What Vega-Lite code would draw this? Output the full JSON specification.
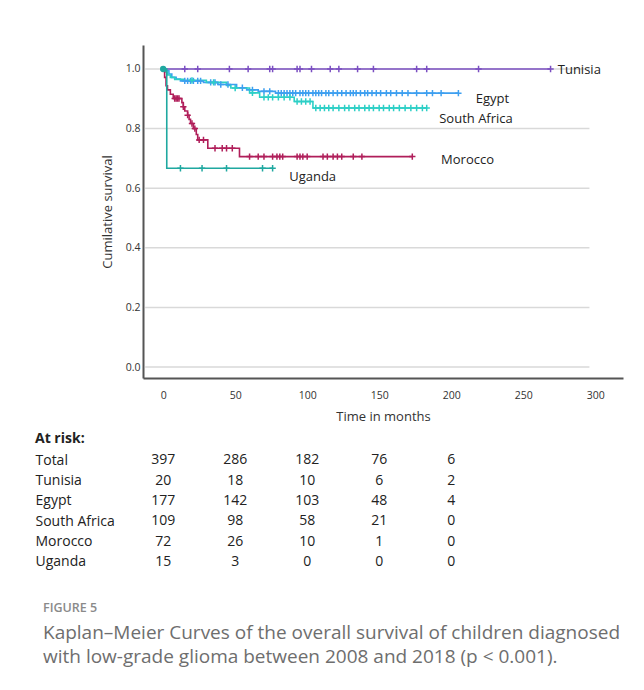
{
  "$schema": "https://vega.github.io/schema/vega-lite/v6.json",
  "padding": {"left": 35, "top": 45, "right": 5, "bottom": 5},
  "background": "white",
  "config": {"font": "Open Sans", "view": {"stroke": null}},
  "datasets": {
    "curves": [
      {"g": "Tunisia", "t": 0, "s": 1}, {"g": "Tunisia", "t": 269, "s": 1},
      {"g": "Egypt", "t": 0, "s": 1}, {"g": "Egypt", "t": 2, "s": 0.994}, {"g": "Egypt", "t": 4, "s": 0.983}, {"g": "Egypt", "t": 6, "s": 0.972}, {"g": "Egypt", "t": 9, "s": 0.966}, {"g": "Egypt", "t": 12, "s": 0.96}, {"g": "Egypt", "t": 28, "s": 0.955}, {"g": "Egypt", "t": 38, "s": 0.948}, {"g": "Egypt", "t": 51, "s": 0.937}, {"g": "Egypt", "t": 58, "s": 0.93}, {"g": "Egypt", "t": 66, "s": 0.925}, {"g": "Egypt", "t": 78, "s": 0.919}, {"g": "Egypt", "t": 205, "s": 0.919},
      {"g": "South Africa", "t": 0, "s": 1}, {"g": "South Africa", "t": 1.5, "s": 0.99}, {"g": "South Africa", "t": 3, "s": 0.98}, {"g": "South Africa", "t": 5, "s": 0.972}, {"g": "South Africa", "t": 8, "s": 0.965}, {"g": "South Africa", "t": 14, "s": 0.962}, {"g": "South Africa", "t": 30, "s": 0.955}, {"g": "South Africa", "t": 44, "s": 0.945}, {"g": "South Africa", "t": 47, "s": 0.936}, {"g": "South Africa", "t": 60, "s": 0.92}, {"g": "South Africa", "t": 67, "s": 0.905}, {"g": "South Africa", "t": 91, "s": 0.891}, {"g": "South Africa", "t": 104, "s": 0.869}, {"g": "South Africa", "t": 183, "s": 0.869},
      {"g": "Morocco", "t": 0, "s": 1}, {"g": "Morocco", "t": 1, "s": 0.972}, {"g": "Morocco", "t": 2, "s": 0.944}, {"g": "Morocco", "t": 3, "s": 0.93}, {"g": "Morocco", "t": 5, "s": 0.915}, {"g": "Morocco", "t": 7, "s": 0.901}, {"g": "Morocco", "t": 13, "s": 0.887}, {"g": "Morocco", "t": 14, "s": 0.873}, {"g": "Morocco", "t": 15, "s": 0.859}, {"g": "Morocco", "t": 17, "s": 0.845}, {"g": "Morocco", "t": 18, "s": 0.831}, {"g": "Morocco", "t": 19, "s": 0.817}, {"g": "Morocco", "t": 21, "s": 0.8}, {"g": "Morocco", "t": 23, "s": 0.78}, {"g": "Morocco", "t": 24, "s": 0.762}, {"g": "Morocco", "t": 31, "s": 0.734}, {"g": "Morocco", "t": 53, "s": 0.706}, {"g": "Morocco", "t": 173, "s": 0.706},
      {"g": "Uganda", "t": 0, "s": 1}, {"g": "Uganda", "t": 2.5, "s": 0.667}, {"g": "Uganda", "t": 76, "s": 0.667}
    ],
    "censored": [
      {"g": "Tunisia", "t": 15, "s": 1}, {"g": "Tunisia", "t": 24, "s": 1}, {"g": "Tunisia", "t": 46, "s": 1}, {"g": "Tunisia", "t": 59, "s": 1}, {"g": "Tunisia", "t": 74, "s": 1}, {"g": "Tunisia", "t": 76, "s": 1}, {"g": "Tunisia", "t": 93, "s": 1}, {"g": "Tunisia", "t": 95, "s": 1}, {"g": "Tunisia", "t": 103, "s": 1}, {"g": "Tunisia", "t": 116, "s": 1}, {"g": "Tunisia", "t": 122, "s": 1}, {"g": "Tunisia", "t": 135, "s": 1}, {"g": "Tunisia", "t": 146, "s": 1}, {"g": "Tunisia", "t": 176, "s": 1}, {"g": "Tunisia", "t": 183, "s": 1}, {"g": "Tunisia", "t": 219, "s": 1}, {"g": "Tunisia", "t": 269, "s": 1},
      {"g": "Egypt", "t": 15, "s": 0.96}, {"g": "Egypt", "t": 17, "s": 0.96}, {"g": "Egypt", "t": 19, "s": 0.96}, {"g": "Egypt", "t": 21, "s": 0.96}, {"g": "Egypt", "t": 24, "s": 0.96}, {"g": "Egypt", "t": 26, "s": 0.96}, {"g": "Egypt", "t": 33, "s": 0.955}, {"g": "Egypt", "t": 36, "s": 0.955}, {"g": "Egypt", "t": 40, "s": 0.948}, {"g": "Egypt", "t": 45, "s": 0.948}, {"g": "Egypt", "t": 55, "s": 0.937}, {"g": "Egypt", "t": 62, "s": 0.93}, {"g": "Egypt", "t": 70, "s": 0.925}, {"g": "Egypt", "t": 74, "s": 0.925},
      {"g": "Egypt", "t": 80, "s": 0.919}, {"g": "Egypt", "t": 82, "s": 0.919}, {"g": "Egypt", "t": 84, "s": 0.919}, {"g": "Egypt", "t": 86, "s": 0.919}, {"g": "Egypt", "t": 88, "s": 0.919}, {"g": "Egypt", "t": 90, "s": 0.919}, {"g": "Egypt", "t": 92, "s": 0.919}, {"g": "Egypt", "t": 95, "s": 0.919}, {"g": "Egypt", "t": 97, "s": 0.919}, {"g": "Egypt", "t": 99, "s": 0.919}, {"g": "Egypt", "t": 101, "s": 0.919}, {"g": "Egypt", "t": 104, "s": 0.919}, {"g": "Egypt", "t": 106, "s": 0.919}, {"g": "Egypt", "t": 108, "s": 0.919}, {"g": "Egypt", "t": 110, "s": 0.919}, {"g": "Egypt", "t": 113, "s": 0.919}, {"g": "Egypt", "t": 115, "s": 0.919}, {"g": "Egypt", "t": 118, "s": 0.919}, {"g": "Egypt", "t": 121, "s": 0.919}, {"g": "Egypt", "t": 124, "s": 0.919}, {"g": "Egypt", "t": 127, "s": 0.919}, {"g": "Egypt", "t": 130, "s": 0.919}, {"g": "Egypt", "t": 132, "s": 0.919}, {"g": "Egypt", "t": 134, "s": 0.919}, {"g": "Egypt", "t": 137, "s": 0.919}, {"g": "Egypt", "t": 140, "s": 0.919}, {"g": "Egypt", "t": 142, "s": 0.919}, {"g": "Egypt", "t": 145, "s": 0.919}, {"g": "Egypt", "t": 148, "s": 0.919}, {"g": "Egypt", "t": 151, "s": 0.919}, {"g": "Egypt", "t": 155, "s": 0.919}, {"g": "Egypt", "t": 158, "s": 0.919}, {"g": "Egypt", "t": 162, "s": 0.919}, {"g": "Egypt", "t": 166, "s": 0.919}, {"g": "Egypt", "t": 170, "s": 0.919}, {"g": "Egypt", "t": 176, "s": 0.919}, {"g": "Egypt", "t": 183, "s": 0.919}, {"g": "Egypt", "t": 187, "s": 0.919}, {"g": "Egypt", "t": 193, "s": 0.919}, {"g": "Egypt", "t": 205, "s": 0.919},
      {"g": "South Africa", "t": 20, "s": 0.962}, {"g": "South Africa", "t": 35, "s": 0.955}, {"g": "South Africa", "t": 50, "s": 0.936}, {"g": "South Africa", "t": 62, "s": 0.92}, {"g": "South Africa", "t": 70, "s": 0.905}, {"g": "South Africa", "t": 73, "s": 0.905}, {"g": "South Africa", "t": 76, "s": 0.905}, {"g": "South Africa", "t": 80, "s": 0.905}, {"g": "South Africa", "t": 84, "s": 0.905}, {"g": "South Africa", "t": 88, "s": 0.905}, {"g": "South Africa", "t": 93, "s": 0.891}, {"g": "South Africa", "t": 96, "s": 0.891}, {"g": "South Africa", "t": 99, "s": 0.891}, {"g": "South Africa", "t": 102, "s": 0.891},
      {"g": "South Africa", "t": 106, "s": 0.869}, {"g": "South Africa", "t": 109, "s": 0.869}, {"g": "South Africa", "t": 112, "s": 0.869}, {"g": "South Africa", "t": 115, "s": 0.869}, {"g": "South Africa", "t": 118, "s": 0.869}, {"g": "South Africa", "t": 122, "s": 0.869}, {"g": "South Africa", "t": 126, "s": 0.869}, {"g": "South Africa", "t": 129, "s": 0.869}, {"g": "South Africa", "t": 133, "s": 0.869}, {"g": "South Africa", "t": 136, "s": 0.869}, {"g": "South Africa", "t": 140, "s": 0.869}, {"g": "South Africa", "t": 143, "s": 0.869}, {"g": "South Africa", "t": 146, "s": 0.869}, {"g": "South Africa", "t": 150, "s": 0.869}, {"g": "South Africa", "t": 153, "s": 0.869}, {"g": "South Africa", "t": 157, "s": 0.869}, {"g": "South Africa", "t": 160, "s": 0.869}, {"g": "South Africa", "t": 164, "s": 0.869}, {"g": "South Africa", "t": 168, "s": 0.869}, {"g": "South Africa", "t": 172, "s": 0.869}, {"g": "South Africa", "t": 176, "s": 0.869}, {"g": "South Africa", "t": 180, "s": 0.869}, {"g": "South Africa", "t": 183, "s": 0.869},
      {"g": "Morocco", "t": 8, "s": 0.901}, {"g": "Morocco", "t": 9, "s": 0.901}, {"g": "Morocco", "t": 10, "s": 0.901}, {"g": "Morocco", "t": 11, "s": 0.901}, {"g": "Morocco", "t": 14, "s": 0.873}, {"g": "Morocco", "t": 17, "s": 0.845}, {"g": "Morocco", "t": 20, "s": 0.817}, {"g": "Morocco", "t": 22, "s": 0.8}, {"g": "Morocco", "t": 25, "s": 0.762}, {"g": "Morocco", "t": 28, "s": 0.762}, {"g": "Morocco", "t": 36, "s": 0.734}, {"g": "Morocco", "t": 41, "s": 0.734}, {"g": "Morocco", "t": 44, "s": 0.734}, {"g": "Morocco", "t": 48, "s": 0.734},
      {"g": "Morocco", "t": 60, "s": 0.706}, {"g": "Morocco", "t": 66, "s": 0.706}, {"g": "Morocco", "t": 70, "s": 0.706}, {"g": "Morocco", "t": 76, "s": 0.706}, {"g": "Morocco", "t": 79, "s": 0.706}, {"g": "Morocco", "t": 81, "s": 0.706}, {"g": "Morocco", "t": 83, "s": 0.706}, {"g": "Morocco", "t": 93, "s": 0.706}, {"g": "Morocco", "t": 95, "s": 0.706}, {"g": "Morocco", "t": 97, "s": 0.706}, {"g": "Morocco", "t": 100, "s": 0.706}, {"g": "Morocco", "t": 111, "s": 0.706}, {"g": "Morocco", "t": 114, "s": 0.706}, {"g": "Morocco", "t": 118, "s": 0.706}, {"g": "Morocco", "t": 121, "s": 0.706}, {"g": "Morocco", "t": 124, "s": 0.706}, {"g": "Morocco", "t": 132, "s": 0.706}, {"g": "Morocco", "t": 138, "s": 0.706}, {"g": "Morocco", "t": 173, "s": 0.706},
      {"g": "Uganda", "t": 12, "s": 0.667}, {"g": "Uganda", "t": 27, "s": 0.667}, {"g": "Uganda", "t": 44, "s": 0.667}, {"g": "Uganda", "t": 69, "s": 0.667}, {"g": "Uganda", "t": 76, "s": 0.667}
    ],
    "origin": [{"g": "Uganda", "t": 0, "s": 1}],
    "grid": [{"s": 0}, {"s": 0.2}, {"s": 0.4}, {"s": 0.6}, {"s": 0.8}, {"s": 1}],
    "labels": [
      {"label": "Tunisia", "t": 274, "s": 0.995},
      {"label": "Egypt", "t": 217, "s": 0.9},
      {"label": "South Africa", "t": 191.7, "s": 0.833},
      {"label": "Morocco", "t": 193, "s": 0.693},
      {"label": "Uganda", "t": 87.5, "s": 0.639}
    ],
    "atrisk": [
      {"row": "Total", "t": 0, "n": 397}, {"row": "Total", "t": 50, "n": 286}, {"row": "Total", "t": 100, "n": 182}, {"row": "Total", "t": 150, "n": 76}, {"row": "Total", "t": 200, "n": 6},
      {"row": "Tunisia", "t": 0, "n": 20}, {"row": "Tunisia", "t": 50, "n": 18}, {"row": "Tunisia", "t": 100, "n": 10}, {"row": "Tunisia", "t": 150, "n": 6}, {"row": "Tunisia", "t": 200, "n": 2},
      {"row": "Egypt", "t": 0, "n": 177}, {"row": "Egypt", "t": 50, "n": 142}, {"row": "Egypt", "t": 100, "n": 103}, {"row": "Egypt", "t": 150, "n": 48}, {"row": "Egypt", "t": 200, "n": 4},
      {"row": "South Africa", "t": 0, "n": 109}, {"row": "South Africa", "t": 50, "n": 98}, {"row": "South Africa", "t": 100, "n": 58}, {"row": "South Africa", "t": 150, "n": 21}, {"row": "South Africa", "t": 200, "n": 0},
      {"row": "Morocco", "t": 0, "n": 72}, {"row": "Morocco", "t": 50, "n": 26}, {"row": "Morocco", "t": 100, "n": 10}, {"row": "Morocco", "t": 150, "n": 1}, {"row": "Morocco", "t": 200, "n": 0},
      {"row": "Uganda", "t": 0, "n": 15}, {"row": "Uganda", "t": 50, "n": 3}, {"row": "Uganda", "t": 100, "n": 0}, {"row": "Uganda", "t": 150, "n": 0}, {"row": "Uganda", "t": 200, "n": 0}
    ]
  },
  "title": {
    "text": "FIGURE 5",
    "subtitle": ["Kaplan–Meier Curves of the overall survival of children diagnosed", "with low-grade glioma between 2008 and 2018 (p < 0.001)."],
    "orient": "bottom",
    "anchor": "start",
    "frame": "bounds",
    "dx": 8,
    "offset": 30,
    "font": "Open Sans",
    "fontSize": 12.5,
    "fontWeight": 600,
    "color": "#8a8a8a",
    "subtitleFont": "Open Sans",
    "subtitleFontSize": 19,
    "subtitleColor": "#6e6e6e",
    "subtitleLineHeight": 24,
    "subtitlePadding": 9
  },
  "spacing": 8,
  "vconcat": [
    {
      "width": 480,
      "height": 333,
      "layer": [
        {
          "data": {"name": "grid"},
          "mark": {"type": "rule", "color": "#d9d9d9", "strokeWidth": 1.5},
          "encoding": {
            "y": {"field": "s", "type": "quantitative", "scale": {"domain": [-0.0369, 1.0805], "nice": false, "zero": false}},
            "x": {"datum": -12.5, "type": "quantitative", "scale": {"domain": [-14, 319.3], "nice": false, "zero": false}},
            "x2": {"datum": 296}
          }
        },
        {
          "data": {"name": "curves"},
          "mark": {"type": "line", "interpolate": "step-after", "strokeWidth": 1.6},
          "encoding": {
            "x": {"field": "t", "type": "quantitative", "scale": {"domain": [-14, 319.3], "nice": false, "zero": false},
              "axis": {"values": [0, 50, 100, 150, 200, 250, 300], "title": "Time in months", "grid": false, "ticks": false, "domainColor": "#555555", "domainWidth": 2, "labelFontSize": 10.5, "labelColor": "#333333", "labelPadding": 12, "titleFontSize": 13, "titleFontWeight": "normal", "titleColor": "#333333", "titlePadding": 10}},
            "y": {"field": "s", "type": "quantitative", "scale": {"domain": [-0.0369, 1.0805], "nice": false, "zero": false},
              "axis": {"values": [0, 0.2, 0.4, 0.6, 0.8, 1], "format": ".1f", "title": "Cumilative survival", "grid": false, "ticks": false, "domainColor": "#555555", "domainWidth": 2, "labelFontSize": 10.5, "labelColor": "#333333", "labelPadding": 3, "titleFontSize": 13, "titleFontWeight": "normal", "titleColor": "#333333", "titlePadding": 11}},
            "color": {"field": "g", "type": "nominal", "legend": null,
              "scale": {"domain": ["Tunisia", "Egypt", "South Africa", "Morocco", "Uganda"], "range": ["#7b4fc2", "#3d9ff0", "#2ccfc6", "#b01e5a", "#1fa8a0"]}}
          }
        },
        {
          "data": {"name": "censored"},
          "mark": {"type": "point", "shape": "M0,-1V1M-1,0H1", "size": 40, "strokeWidth": 1.5, "filled": false, "opacity": 1},
          "encoding": {
            "x": {"field": "t", "type": "quantitative"},
            "y": {"field": "s", "type": "quantitative"},
            "color": {"field": "g", "type": "nominal", "legend": null}
          }
        },
        {
          "data": {"name": "origin"},
          "mark": {"type": "point", "shape": "circle", "size": 40, "filled": true, "opacity": 1},
          "encoding": {
            "x": {"field": "t", "type": "quantitative"},
            "y": {"field": "s", "type": "quantitative"},
            "color": {"field": "g", "type": "nominal", "legend": null}
          }
        },
        {
          "data": {"name": "labels"},
          "mark": {"type": "text", "align": "left", "baseline": "middle", "fontSize": 13, "color": "#222222"},
          "encoding": {
            "x": {"field": "t", "type": "quantitative"},
            "y": {"field": "s", "type": "quantitative"},
            "text": {"field": "label"}
          }
        }
      ]
    },
    {
      "width": 480,
      "height": 122,
      "data": {"name": "atrisk"},
      "title": {"text": "At risk:", "anchor": "start", "frame": "group", "dx": -108, "fontSize": 14, "fontWeight": "bold", "color": "#222222", "offset": 4},
      "mark": {"type": "text", "fontSize": 14, "color": "#222222"},
      "encoding": {
        "x": {"field": "t", "type": "quantitative", "scale": {"domain": [-14, 319.3], "nice": false, "zero": false}, "axis": null},
        "y": {"field": "row", "type": "nominal", "sort": ["Total", "Tunisia", "Egypt", "South Africa", "Morocco", "Uganda"],
          "scale": {"type": "point", "padding": 0.5},
          "axis": {"title": null, "domain": false, "ticks": false, "labelAlign": "left", "labelPadding": 108, "labelFontSize": 14, "labelColor": "#222222"}},
        "text": {"field": "n", "type": "quantitative"}
      }
    }
  ]
}
